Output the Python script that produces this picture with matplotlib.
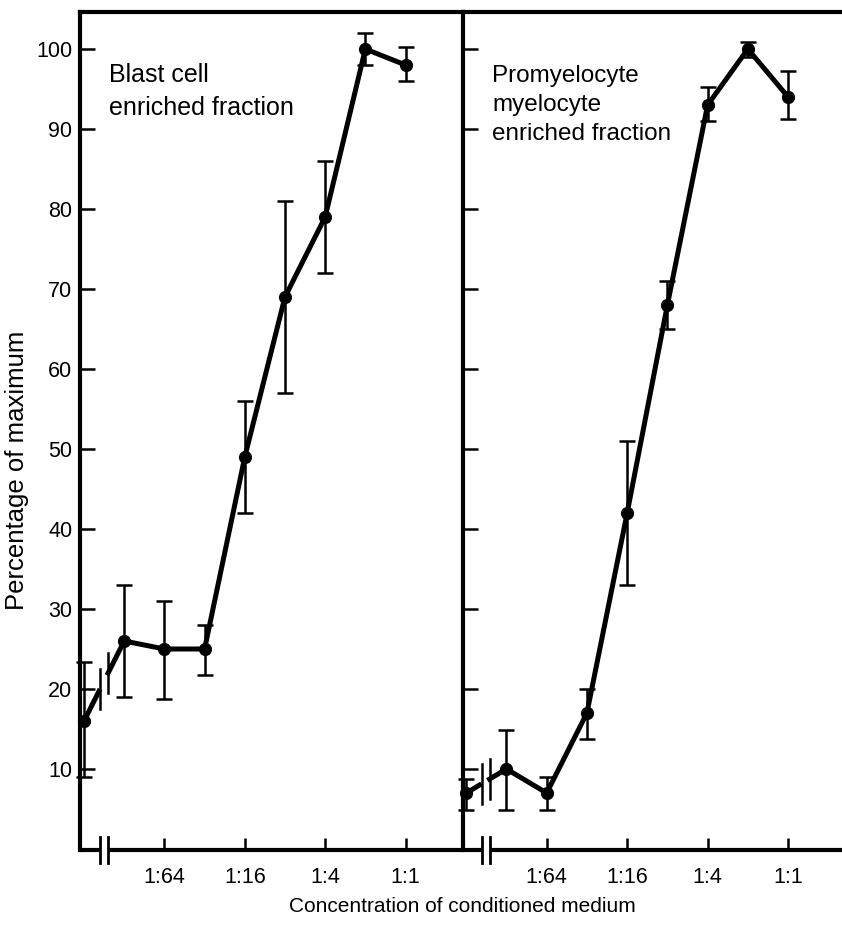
import numpy as np
import matplotlib
matplotlib.use("Agg")
import matplotlib.pyplot as plt

plt.rcParams['font.family'] = ['Liberation Sans', 'DejaVu Sans']

# dilution steps on a log2 scale (1:1 -> 0); the control sits left of the axis break
dilutions = ['control', '1:128', '1:64', '1:32', '1:16', '1:8', '1:4', '1:2', '1:1']
x_pos = [-8, -7, -6, -5, -4, -3, -2, -1, 0]
tick_pos = [-6, -4, -2, 0]
tick_labels = ['1:64', '1:16', '1:4', '1:1']
y_ticks = [10, 20, 30, 40, 50, 60, 70, 80, 90, 100]

blast_mean = [16, 26, 25, 25, 49, 69, 79, 100, 98]
blast_lo = [9, 19, 18.7, 21.8, 42, 57, 72, 98, 96]
blast_hi = [23.4, 33, 31, 28, 56, 81, 86, 102, 100.2]

promy_mean = [7, 10, 7, 17, 42, 68, 93, 100, 94]
promy_lo = [4.9, 4.9, 4.9, 13.8, 33, 65, 91, 99, 91.3]
promy_hi = [8.8, 14.9, 9, 20, 51, 71, 95.2, 100.9, 97.2]

W, H = 842, 926
fig = plt.figure(figsize=(W / 100, H / 100), dpi=100)

bottom = 1 - 850 / H
height = (850 - 12) / H
ax1 = fig.add_axes([80 / W, bottom, 383 / W, height])
ax2 = fig.add_axes([463 / W, bottom, 379 / W, height])

ylim = (-0.125, 104.625)
panels = [
    (ax1, (-8.1, 1.43), blast_mean, blast_lo, blast_hi, (-7.6, -7.4)),
    (ax2, (-8.08, 1.34), promy_mean, promy_lo, promy_hi, (-7.62, -7.42)),
]

for ax, xlim, mean, lo, hi, brk in panels:
    mean = np.array(mean, dtype=float)
    lo = np.array(lo, dtype=float)
    hi = np.array(hi, dtype=float)
    xs = np.array(x_pos, dtype=float)

    ax.set_xlim(*xlim)
    ax.set_ylim(*ylim)

    ax.errorbar(xs, mean, yerr=[mean - lo, hi - mean], fmt='none',
                ecolor='black', elinewidth=1.8, capsize=6, capthick=1.8,
                clip_on=False, zorder=3)

    # line broken between the control and the first dilution
    yb1, yb2 = np.interp(brk, xs, mean)
    ax.plot([xs[0], brk[0]], [mean[0], yb1], color='black', lw=3.6,
            solid_capstyle='butt', clip_on=False, zorder=4)
    ax.plot(np.r_[brk[1], xs[1:]], np.r_[yb2, mean[1:]], color='black',
            lw=3.6, solid_joinstyle='round', clip_on=False, zorder=4)
    for xb, yb in zip(brk, (yb1, yb2)):
        ax.plot([xb, xb], [yb - 2.5, yb + 2.5], color='black', lw=1.8,
                clip_on=False, zorder=4)
    ax.plot(xs, mean, 'o', color='black', markersize=8.5, clip_on=False, zorder=5)

    # bottom axis line with its break
    y0 = ylim[0]
    ax.plot([xlim[0], brk[0]], [y0, y0], color='black', lw=3,
            solid_capstyle='butt', clip_on=False, zorder=6)
    ax.plot([brk[1], xlim[1]], [y0, y0], color='black', lw=3,
            solid_capstyle='butt', clip_on=False, zorder=6)
    for xb in brk:
        ax.plot([xb, xb], [y0 - 1.6, y0 + 1.6], color='black', lw=2,
                clip_on=False, zorder=6)

    for side in ('bottom', 'right'):
        ax.spines[side].set_visible(False)
    for side in ('left', 'top'):
        ax.spines[side].set_linewidth(3)

    ax.set_xticks(tick_pos)
    ax.set_xticklabels(tick_labels)
    ax.set_yticks(y_ticks)
    ax.tick_params(axis='x', direction='in', length=8.5, width=1.8,
                   labelsize=15.5, pad=12)
    ax.tick_params(axis='y', direction='in', length=11, width=1.8,
                   labelsize=15.5, pad=5.5)
    ax.set_facecolor('none')

ax2.tick_params(axis='y', labelleft=False)

fig.text(109 / W, 1 - 63 / H, 'Blast cell\nenriched fraction', ha='left', va='top',
         fontsize=18, linespacing=1.45)
fig.text(492 / W, 1 - 65 / H, 'Promyelocyte\nmyelocyte\nenriched fraction',
         ha='left', va='top', fontsize=17.5, linespacing=1.42)

fig.text(462 / W, 1 - 906 / H, 'Concentration of conditioned medium',
         ha='center', va='center', fontsize=15)
fig.text(17 / W, 1 - 470 / H, 'Percentage of maximum', ha='center', va='center',
         rotation=90, fontsize=18.5)

fig.savefig('out.png', dpi=100)
